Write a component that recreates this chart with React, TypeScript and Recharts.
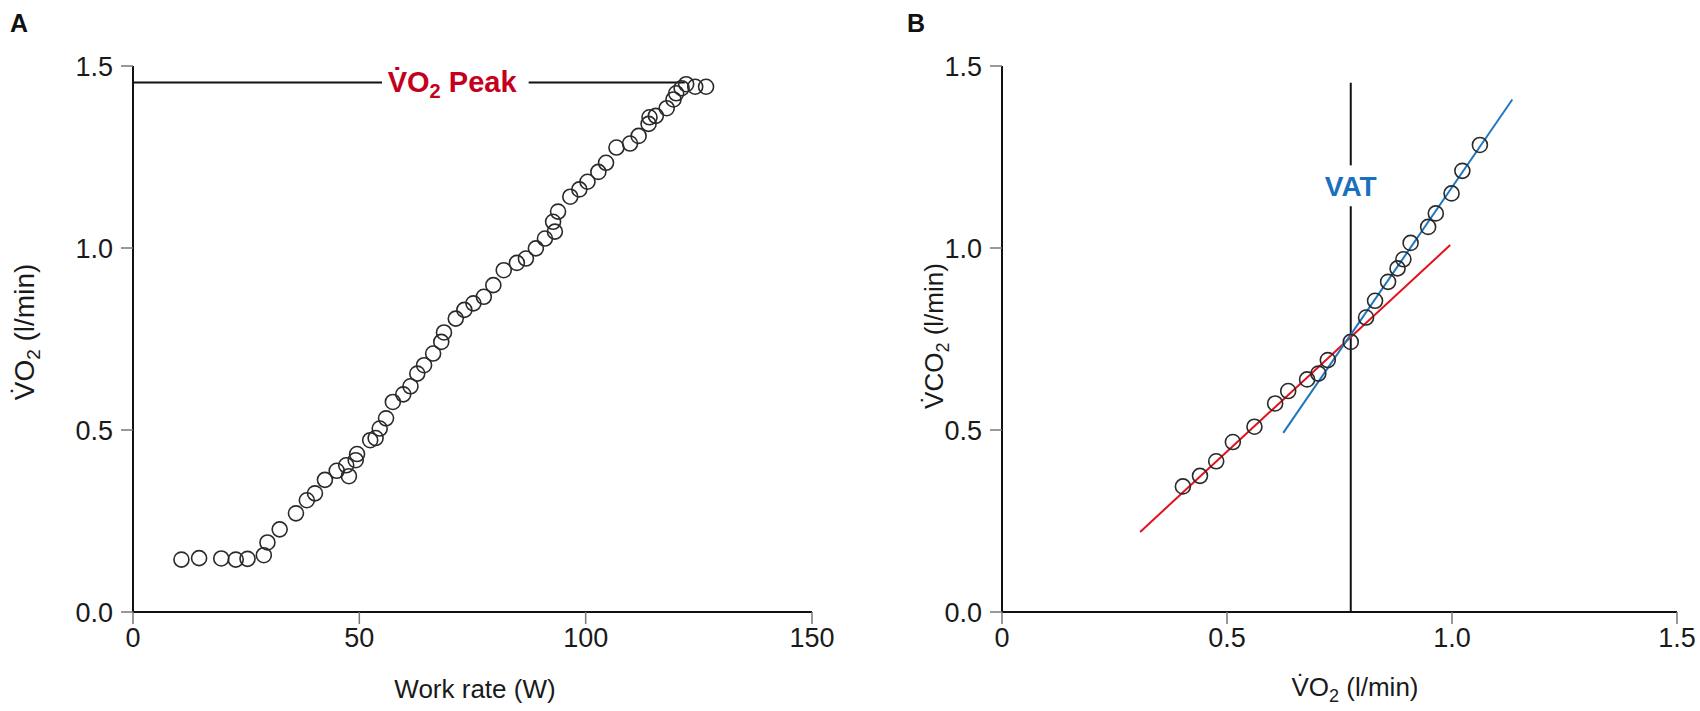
import React from 'react';
import { ReferenceDot, ReferenceLine, Scatter, ScatterChart, XAxis, YAxis } from 'recharts';

// Panel A: VO2 against work rate
const workRate = [
  10.7, 14.6, 19.5, 22.7, 25.3, 28.9, 29.7, 32.4, 36.0, 38.4, 40.2, 42.4, 45.0, 47.1, 47.7,
  49.2, 49.5, 52.4, 53.6, 54.5, 55.9, 57.4, 59.7, 61.3, 62.8, 64.3, 66.3, 68.1, 68.7, 71.3,
  73.2, 75.2, 77.5, 79.6, 81.9, 84.8, 86.8, 89.0, 91.0, 93.2, 92.8, 93.9, 96.6, 98.6, 100.4,
  102.8, 104.5, 106.8, 109.8, 111.7, 113.9, 114.1, 115.5, 117.9, 119.4, 120.0, 121.2, 122.2, 124.2, 126.6,
];
const vo2A = [
  0.144, 0.148, 0.147, 0.144, 0.146, 0.156, 0.191, 0.227, 0.271, 0.307, 0.326, 0.363, 0.388, 0.403, 0.373,
  0.417, 0.434, 0.472, 0.478, 0.504, 0.532, 0.577, 0.598, 0.62, 0.655, 0.678, 0.71, 0.742, 0.768, 0.806,
  0.83, 0.848, 0.866, 0.898, 0.939, 0.959, 0.971, 0.999, 1.026, 1.045, 1.072, 1.1, 1.141, 1.161, 1.182,
  1.209, 1.234, 1.276, 1.287, 1.308, 1.341, 1.359, 1.363, 1.384, 1.408, 1.425, 1.439, 1.45, 1.443, 1.443,
];
const peakVo2 = 1.455;
const peakLineEnd = 121.9;
const peakGap = [55.0, 87.4];
const peakLabelAt = 70.5;

// Panel B: VCO2 against VO2
const vo2B = [
  0.402, 0.44, 0.476, 0.513, 0.561, 0.607, 0.636, 0.678, 0.703, 0.724, 0.775,
  0.809, 0.829, 0.858, 0.879, 0.892, 0.908, 0.947, 0.964, 0.999, 1.023, 1.062,
];
const vco2B = [
  0.345, 0.374, 0.414, 0.467, 0.509, 0.573, 0.607, 0.639, 0.655, 0.692, 0.742,
  0.809, 0.855, 0.907, 0.944, 0.969, 1.014, 1.058, 1.095, 1.15, 1.212, 1.283,
];
const redFit = [{ x: 0.307, y: 0.22 }, { x: 0.996, y: 1.008 }];
const blueFit = [{ x: 0.625, y: 0.492 }, { x: 1.134, y: 1.408 }];
const vat = 0.775;
const vatTop = 1.454;
const vatGap = [1.115, 1.227];
const vatLabelAt = 1.17;

const ticksA = [0, 50, 100, 150];
const ticksB = [0, 0.5, 1.0, 1.5];
const ticksY = [0, 0.5, 1.0, 1.5];

const pointsA = workRate.map((x, i) => ({ x, y: vo2A[i] }));
const pointsB = vo2B.map((x, i) => ({ x, y: vco2B[i] }));

const FONT = '"Liberation Sans", Arial, Helvetica, sans-serif';
const RED = '#c4001c';
const FIT_RED = '#e3101e';
const FIT_BLUE = '#1f77c0';
const VAT_BLUE = '#1a70bc';

const W = 850;
const H = 711;

const ring = (p: any) => (
  <circle cx={p.cx} cy={p.cy} r={7.5} fill="none" stroke="#2a2a2a" strokeWidth={1.6} />
);

const axisLine = { stroke: '#111', strokeWidth: 2 };
const tickLine = { stroke: '#777', strokeWidth: 1.5 };
const tickStyle = { fontSize: 27, fill: '#1a1a1a', fontFamily: FONT };

function Vo2Title({ x, y, co2, vertical, size = 27 }: { x: number; y: number; co2?: boolean; vertical?: boolean; size?: number }) {
  return (
    <text
      x={x}
      y={y}
      textAnchor="middle"
      fontSize={size}
      fontFamily={FONT}
      fill="#1a1a1a"
      transform={vertical ? `rotate(-90, ${x}, ${y})` : undefined}
    >
      <tspan>{'V\u0307' + (co2 ? 'CO' : 'O')}</tspan>
      <tspan fontSize={Math.round(size * 0.68)} dy={6}>2</tspan>
      <tspan dy={-6}> (l/min)</tspan>
    </text>
  );
}

function PanelA() {
  return (
    <ScatterChart width={W} height={H} margin={{ top: 66, right: 38, bottom: 49, left: 53 }}>
      <XAxis
        type="number"
        dataKey="x"
        domain={[0, 150]}
        ticks={ticksA}
        height={50}
        axisLine={axisLine}
        tickLine={tickLine}
        tickSize={12}
        tickMargin={4}
        tick={tickStyle}
      />
      <YAxis
        type="number"
        dataKey="y"
        domain={[0, 1.5]}
        ticks={ticksY}
        width={80}
        axisLine={axisLine}
        tickLine={tickLine}
        tickSize={12}
        tickMargin={8}
        tick={tickStyle}
        tickFormatter={(v: number) => v.toFixed(1)}
      />
      <ReferenceLine segment={[{ x: 0, y: peakVo2 }, { x: peakGap[0], y: peakVo2 }]} stroke="#111" strokeWidth={2} />
      <ReferenceLine segment={[{ x: peakGap[1], y: peakVo2 }, { x: peakLineEnd, y: peakVo2 }]} stroke="#111" strokeWidth={2} />
      <ReferenceDot
        x={peakLabelAt}
        y={peakVo2}
        r={0}
        shape={(p: any) => (
          <text x={p.cx} y={p.cy + 10} textAnchor="middle" fontSize={29} fontWeight="bold" fontFamily={FONT} fill={RED}>
            <tspan>{'V\u0307O'}</tspan>
            <tspan fontSize={20} dy={6}>2</tspan>
            <tspan dy={-6}> Peak</tspan>
          </text>
        )}
      />
      <Scatter data={pointsA} shape={ring} isAnimationActive={false} />
    </ScatterChart>
  );
}

function PanelB() {
  return (
    <ScatterChart width={W} height={H} margin={{ top: 66, right: 23, bottom: 49, left: 72 }}>
      <XAxis
        type="number"
        dataKey="x"
        domain={[0, 1.5]}
        ticks={ticksB}
        height={50}
        axisLine={axisLine}
        tickLine={tickLine}
        tickSize={12}
        tickMargin={4}
        tick={tickStyle}
        tickFormatter={(v: number) => (v === 0 ? '0' : v.toFixed(1))}
      />
      <YAxis
        type="number"
        dataKey="y"
        domain={[0, 1.5]}
        ticks={ticksY}
        width={80}
        axisLine={axisLine}
        tickLine={tickLine}
        tickSize={12}
        tickMargin={8}
        tick={tickStyle}
        tickFormatter={(v: number) => v.toFixed(1)}
      />
      <ReferenceLine segment={[{ x: vat, y: 0 }, { x: vat, y: vatGap[0] }]} stroke="#111" strokeWidth={2} />
      <ReferenceLine segment={[{ x: vat, y: vatGap[1] }, { x: vat, y: vatTop }]} stroke="#111" strokeWidth={2} />
      <ReferenceLine segment={redFit} stroke={FIT_RED} strokeWidth={2} />
      <ReferenceLine segment={blueFit} stroke={FIT_BLUE} strokeWidth={2} />
      <ReferenceDot
        x={vat}
        y={vatLabelAt}
        r={0}
        shape={(p: any) => (
          <text x={p.cx} y={p.cy + 10} textAnchor="middle" fontSize={28} fontWeight="bold" fontFamily={FONT} fill={VAT_BLUE}>
            VAT
          </text>
        )}
      />
      <Scatter data={pointsB} shape={ring} isAnimationActive={false} />
    </ScatterChart>
  );
}

export default function App() {
  return (
    <div style={{ position: 'absolute', left: 0, top: 0, width: 1700, height: 711, background: '#fff', fontFamily: FONT }}>
      <div style={{ position: 'absolute', left: 0, top: 0 }}>
        <PanelA />
      </div>
      <div style={{ position: 'absolute', left: W, top: 0 }}>
        <PanelB />
      </div>
      {/* axis titles and panel letters */}
      <svg width={1700} height={711} style={{ position: 'absolute', left: 0, top: 0, pointerEvents: 'none' }}>
        <text x={10} y={32} fontSize={25} fontWeight="bold" fontFamily={FONT} fill="#111">A</text>
        <text x={907} y={32} fontSize={25} fontWeight="bold" fontFamily={FONT} fill="#111">B</text>
        <text x={475} y={698} textAnchor="middle" fontSize={26} fontFamily={FONT} fill="#1a1a1a">Work rate (W)</text>
        <Vo2Title x={34} y={332} size={28} vertical />
        <Vo2Title x={1355} y={696} size={26} />
        <Vo2Title x={943} y={336} size={26} co2 vertical />
      </svg>
    </div>
  );
}
